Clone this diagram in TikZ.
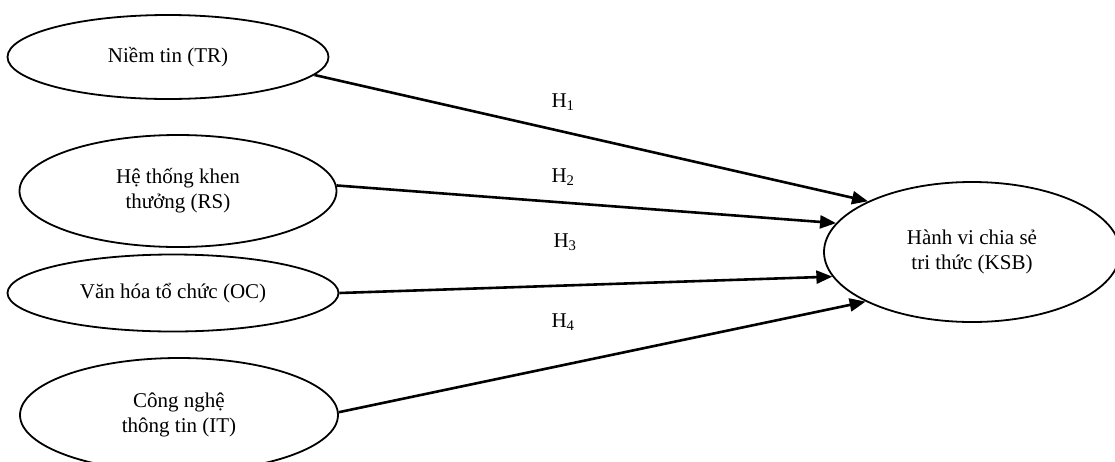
\documentclass[tikz,border=0pt]{standalone}
\usepackage{fontspec}
\setmainfont{Liberation Serif}
\usetikzlibrary{shapes.geometric,arrows.meta}
\begin{document}
\begin{tikzpicture}[x=1pt,y=-1pt,
  construct/.style={draw,ellipse,line width=1.8pt,inner sep=0pt,align=center,
    font=\fontsize{21}{25}\selectfont},
  hyp/.style={line width=2.6pt,-{Triangle[length=16pt,width=13pt]}},
  hlabel/.style={font=\fontsize{21}{25}\selectfont,inner sep=0pt}]
\clip (0,0) rectangle (1115,461);
\fill[white] (0,0) rectangle (1115,461);
\node[construct,minimum width=321pt,minimum height=84pt] (TR) at (168,57) {Niềm tin (TR)};
\node[construct,minimum width=317pt,minimum height=112pt] (RS) at (178,191) {Hệ thống khen\\thưởng (RS)};
\node[construct,minimum width=331pt,minimum height=77pt] (OC) at (173,293) {Văn hóa tổ chức (OC)};
\node[construct,minimum width=318pt,minimum height=114pt] (IT) at (179,415) {Công nghệ\\thông tin (IT)};
\node[construct,minimum width=296pt,minimum height=140pt] (KSB) at (972,252) {Hành vi chia sẻ\\tri thức (KSB)};
\draw[hyp] (TR.-7.5) -- (KSB.154);
\draw[hyp] (RS.2) -- (KSB.168);
\draw[hyp] (OC.0) -- (KSB.190);
\draw[hyp] (IT.1) -- (KSB.205);
\node[hlabel] (h1) at (563,102) {H\textsubscript{1}};
\node[hlabel] (h2) at (563,177) {H\textsubscript{2}};
\node[hlabel] (h3) at (565,242) {H\textsubscript{3}};
\node[hlabel] (h4) at (563,322) {H\textsubscript{4}};
\end{tikzpicture}
\end{document}
